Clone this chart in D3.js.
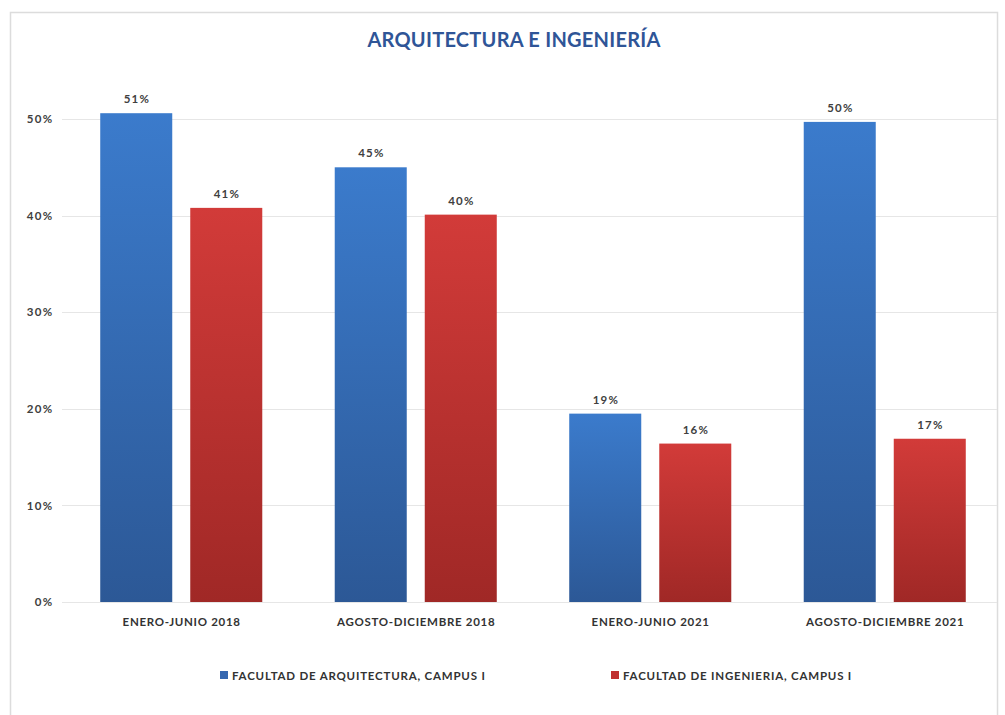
<!DOCTYPE html>
<html>
<head>
<meta charset="utf-8">
<script src="https://cdn.jsdelivr.net/npm/d3@7"></script>
<style>
  html, body { margin: 0; padding: 0; background: #fff; }
  svg { display: block; }
  text { font-family: "Lato", "Open Sans", sans-serif; }
</style>
</head>
<body>
<svg id="chart" width="1005" height="715"></svg>
<script>
const categories = ["ENERO-JUNIO 2018", "AGOSTO-DICIEMBRE 2018", "ENERO-JUNIO 2021", "AGOSTO-DICIEMBRE 2021"];
const seriesNames = ["FACULTAD DE ARQUITECTURA, CAMPUS I", "FACULTAD DE INGENIERIA, CAMPUS I"];
const arquitectura = [50.6, 45.0, 19.5, 49.7];
const ingenieria = [40.8, 40.1, 16.4, 16.9];
const arquitecturaLabels = ["51%", "45%", "19%", "50%"];
const ingenieriaLabels = ["41%", "40%", "16%", "17%"];
const yTicks = [0, 10, 20, 30, 40, 50];
const yTickLabels = ["0%", "10%", "20%", "30%", "40%", "50%"];
const chartTitle = "ARQUITECTURA E INGENIERÍA";

const svg = d3.select("#chart");
const defs = svg.append("defs");
function grad(id, c1, c2) {
  const g = defs.append("linearGradient").attr("id", id).attr("x1", 0).attr("y1", 0).attr("x2", 0).attr("y2", 1);
  g.append("stop").attr("offset", "0%").attr("stop-color", c1);
  g.append("stop").attr("offset", "100%").attr("stop-color", c2);
}
grad("gBlue", "#3b7bcc", "#2c5896");
grad("gRed", "#d23b39", "#a02826");
const fills = ["url(#gBlue)", "url(#gRed)"];
const legendColors = ["#3567b0", "#c0302f"];

// frame
svg.append("rect").attr("x", 10.5).attr("y", 12.5).attr("width", 987).attr("height", 720)
  .attr("fill", "none").attr("stroke", "#dcdcdc").attr("stroke-width", 1.5);

const plotLeft = 64, plotRight = 1002, plotTop = 119, plotBottom = 602;
const x = d3.scaleBand().domain(categories).range([plotLeft, plotRight]).paddingInner(0.309).paddingOuter(0.1545);
const inner = d3.scaleBand().domain([0, 1]).range([0, x.bandwidth()]).paddingInner(0.2);
const y = d3.scaleLinear().domain([0, 50]).range([plotBottom, plotTop]);

// gridlines
svg.append("g").selectAll("line").data(yTicks).join("line")
  .attr("x1", 62).attr("x2", 997)
  .attr("y1", d => Math.round(y(d)) + 0.5).attr("y2", d => Math.round(y(d)) + 0.5)
  .attr("stroke", "#e6e6e6").attr("stroke-width", 1.2);

// y labels
const yAxis = d3.axisLeft(y).tickValues(yTicks).tickFormat((d, i) => yTickLabels[i]).tickSize(0).tickPadding(0);
const ya = svg.append("g").attr("transform", "translate(53.5,0)").call(yAxis);
ya.select(".domain").remove();
ya.selectAll("text").attr("font-size", 11.5).attr("font-weight", "bold").attr("fill", "#404040")
  .attr("letter-spacing", 1.3).attr("font-family", "Lato, sans-serif");

// bars
const series = [arquitectura, ingenieria];
const labels = [arquitecturaLabels, ingenieriaLabels];
series.forEach((vals, s) => {
  const g = svg.append("g");
  g.selectAll("rect").data(vals).join("rect")
    .attr("x", (d, i) => x(categories[i]) + inner(s))
    .attr("y", d => y(d))
    .attr("width", inner.bandwidth())
    .attr("height", d => y(0) - y(d))
    .attr("fill", fills[s]);
  g.selectAll("text").data(vals).join("text")
    .attr("x", (d, i) => x(categories[i]) + inner(s) + inner.bandwidth() / 2 + 0.6)
    .attr("y", d => y(d) - 10)
    .attr("text-anchor", "middle")
    .attr("font-size", 11.5).attr("font-weight", "bold").attr("fill", "#404040")
    .attr("letter-spacing", 1.2)
    .text((d, i) => labels[s][i]);
});

// x labels
const xAxis = d3.axisBottom(x).tickSize(0).tickPadding(0);
const xa = svg.append("g").attr("transform", "translate(0.4,626)").call(xAxis);
xa.select(".domain").remove();
xa.selectAll("text").attr("font-size", 11.5).attr("font-weight", "bold").attr("fill", "#333")
  .attr("letter-spacing", 0.7)
  .attr("dy", "0").attr("font-family", "Lato, sans-serif");

// title
svg.append("text").attr("x", 514).attr("y", 47).attr("text-anchor", "middle")
  .attr("font-size", 20).attr("font-weight", "bold").attr("fill", "#2f5597")
  .attr("letter-spacing", 0.25)
  .text(chartTitle);

// legend
const legendX = [220, 611];
seriesNames.forEach((name, i) => {
  svg.append("rect").attr("x", legendX[i]).attr("y", 671).attr("width", 8).attr("height", 8).attr("fill", legendColors[i]);
  svg.append("text").attr("x", legendX[i] + 12).attr("y", 679.5)
    .attr("font-size", 11.5).attr("font-weight", "bold").attr("fill", "#333")
    .attr("letter-spacing", 0.8).text(name);
});
</script>
</body>
</html>
